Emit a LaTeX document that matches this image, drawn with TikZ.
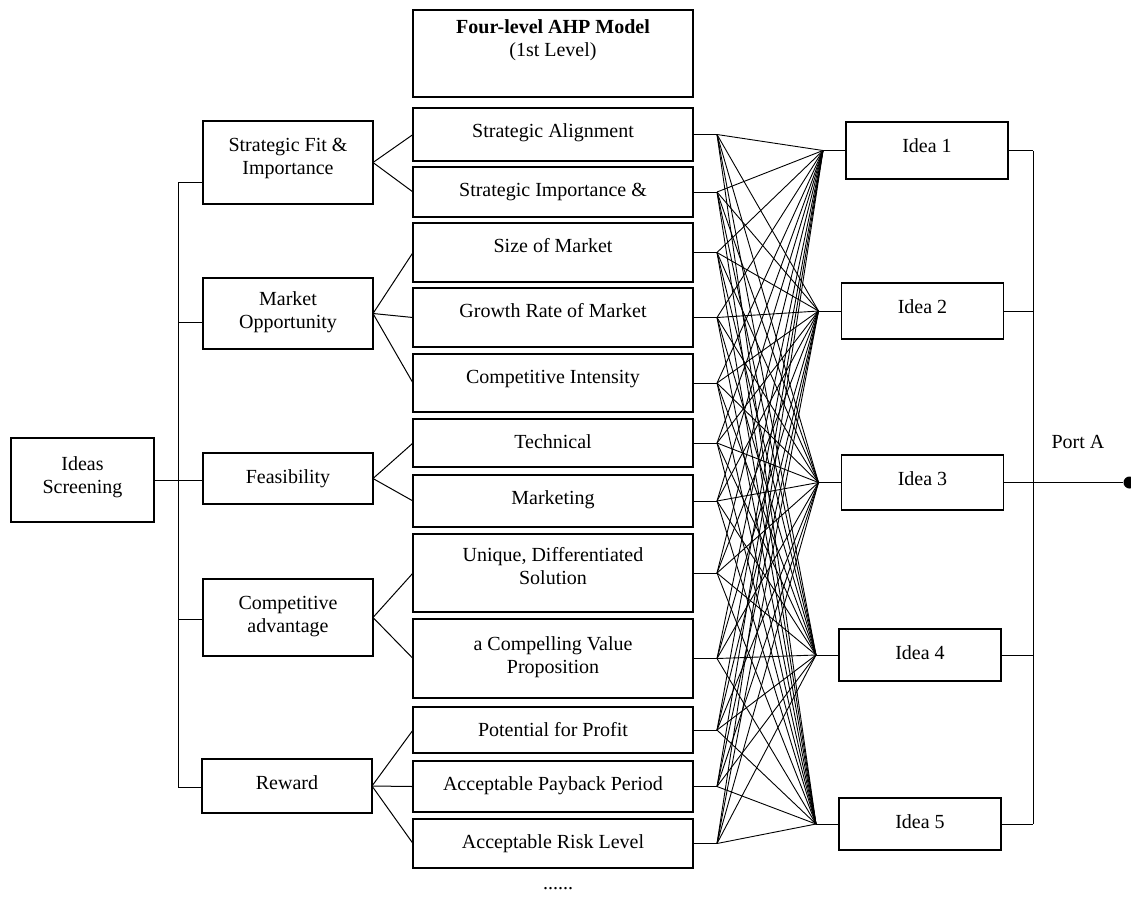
\documentclass[tikz,border=0pt]{standalone}
\usepackage{fontspec}
\setmainfont{Liberation Serif}
\usetikzlibrary{positioning, calc}
\tikzset{
  box/.style={draw,line width=1.2pt,inner sep=0pt,outer sep=0pt,align=center,font=\fontsize{20}{23}\selectfont,text height=29pt},
  subcrit/.style={box,minimum width=280pt,text depth=#1},
  crit/.style={box,minimum width=170pt,text height=30pt,text depth=#1},
  idea/.style={box,minimum width=162pt,text height=30pt,text depth=#1},
  plain/.style={font=\fontsize{20}{23}\selectfont,inner sep=0pt},
  link/.style={line width=1pt},
  fan/.style={line width=0.9pt},
  port/.style={circle,fill=black,inner sep=0pt,minimum size=12pt},
}

\begin{document}
\begin{tikzpicture}[x=1pt,y=1pt]
    \useasboundingbox (0,0) rectangle (1131,-898);
    % model header
    \node[box,line width=1.6pt,minimum width=280pt,text height=46pt,text depth=41pt,anchor=north] (model) at (553,-10) {\textbf{Four-level AHP Model}\\(1st Level)};
    % sub-criteria
    \node[subcrit=24pt,anchor=north] (sa) at (553,-108) {Strategic Alignment};
    \node[subcrit=21pt,below=6pt of sa] (si) {Strategic Importance \&};
    \node[subcrit=30pt,below=6pt of si] (som) {Size of Market};
    \node[subcrit=30pt,below=6pt of som] (gr) {Growth Rate of Market};
    \node[subcrit=29pt,below=7pt of gr] (ci) {Competitive Intensity};
    \node[subcrit=19pt,below=7pt of ci] (tech) {Technical};
    \node[subcrit=23pt,below=8pt of tech] (mktg) {Marketing};
    \node[subcrit=28pt,text height=50pt,below=7pt of mktg] (uds) {Unique, Differentiated\\Solution};
    \node[subcrit=25pt,text height=54pt,below=7pt of uds] (cvp) {a Compelling Value\\Proposition};
    \node[subcrit=17pt,below=9pt of cvp] (pfp) {Potential for Profit};
    \node[subcrit=22pt,below=8pt of pfp] (app) {Acceptable Payback Period};
    \node[subcrit=20pt,below=7pt of app] (arl) {Acceptable Risk Level};
    % criteria
    \node[crit=30pt,text height=53pt,anchor=north] (sfit) at (288,-121) {Strategic Fit \&\\Importance};
    \node[crit=21pt,text height=50pt,anchor=north] (mopp) at (288,-278) {Market\\Opportunity};
    \node[crit=21pt,anchor=north] (feas) at (288,-453) {Feasibility};
    \node[crit=24pt,text height=53pt,anchor=north] (cadv) at (288,-579) {Competitive\\advantage};
    \node[crit=24pt,anchor=north] (rew) at (287,-759) {Reward};
    \node[box,minimum width=143pt,text height=55pt,text depth=29pt,anchor=north] (scr) at (82.5,-438) {Ideas\\Screening};
    % alternatives
    \node[idea=27pt,anchor=north] (i1) at (927,-122) {Idea 1};
    \node[idea=26pt,anchor=north] (i2) at (922.5,-283) {Idea 2};
    \node[idea=25pt,anchor=north] (i3) at (922.5,-455) {Idea 3};
    \node[idea=22pt,anchor=north] (i4) at (920,-629) {Idea 4};
    \node[idea=22pt,anchor=north] (i5) at (920,-798) {Idea 5};

    % goal to criteria
    \coordinate (k1) at (178,-182);
    \coordinate (k2) at (178,-322);
    \coordinate (k4) at (178,-619);
    \coordinate (k5) at (178,-787);
    \draw[link] (k1) -- (k5);
    \draw[link] (k1) -- (k1 -| sfit.west);
    \draw[link] (k2) -- (k2 -| mopp.west);
    \draw[link] (k4) -- (k4 -| cadv.west);
    \draw[link] (k5) -- (k5 -| rew.west);
    \draw[link] (scr.east) -- (scr.east -| feas.west);
    % criteria to sub-criteria
    \foreach \s in {sa,si} \draw[link] (sfit.east) -- (\s.west);
    \foreach \s in {som,gr,ci} \draw[link] (mopp.east) -- (\s.west);
    \foreach \s in {tech,mktg} \draw[link] (feas.east) -- (\s.west);
    \foreach \s in {uds,cvp} \draw[link] (cadv.east) -- (\s.west);
    \foreach \s in {pfp,app,arl} \draw[link] (rew.east) -- (\s.west);
    % sub-criteria to ideas
    \foreach \s in {sa,si,som,gr,ci,tech,mktg,uds,cvp,pfp,app,arl}
        \draw[link] (\s.east) -- ++(24,0) coordinate (\s-end);
    \foreach \i in {1,...,5}
        \draw[link] ([xshift=-23pt]i\i.west) coordinate (f\i) -- (i\i.west);
    \foreach \s in {sa,si,som,gr,ci,tech,mktg,uds,cvp,pfp,app,arl}
        \foreach \i in {1,...,5}
            \draw[fan] (\s-end) -- (f\i);
    % ideas to port
    \coordinate (rb) at (1033,0);
    \foreach \i in {1,...,5} \draw[link] (i\i.east) -- (i\i.east -| rb);
    \draw[link] (i1.east -| rb) -- (i5.east -| rb);
    \node[port] (pA) at ([xshift=126pt]i3.east) {};
    \draw[link] (i3.east) -- (pA);
    \node[plain] (portlbl) at (1078,-442) {Port A};
    \node[plain] (more) at (558,-889) {......};
\end{tikzpicture}
\end{document}
